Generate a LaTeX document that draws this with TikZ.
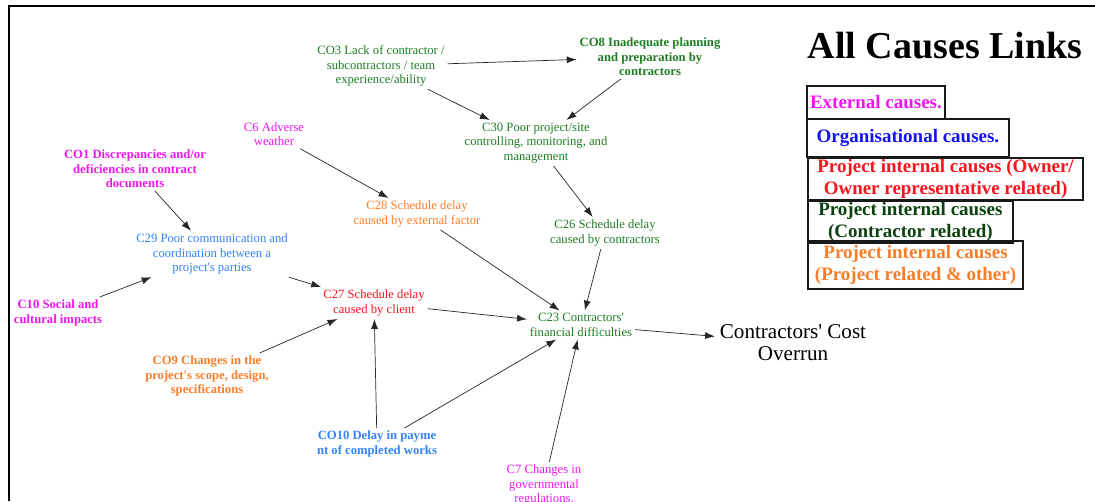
\documentclass[tikz,border=0pt]{standalone}
\usepackage{fontspec}
\setmainfont{Liberation Serif}
\usetikzlibrary{arrows.meta,positioning}

\definecolor{extcol}{RGB}{240,20,240}
\definecolor{orgcol}{RGB}{50,130,250}
\definecolor{orglegcol}{RGB}{20,20,240}
\definecolor{owncol}{RGB}{250,20,30}
\definecolor{concol}{RGB}{30,125,35}
\definecolor{conlegcol}{RGB}{10,65,15}
\definecolor{othcol}{RGB}{250,125,40}

\newcommand{\apos}{\textquotesingle}

\tikzset{
  cause/.style={align=center, font=\fontsize{9}{10.2}\selectfont, inner sep=2pt},
  causeb/.style={cause, font=\fontsize{9}{10.2}\selectfont\bfseries},
  link/.style={-{Latex[length=7pt,width=5pt]}, black!85, line width=0.5pt},
  legbox/.style={draw=black!90, line width=1.3pt, align=center, anchor=north west,
    inner sep=1pt, font=\fontsize{13.5}{15.6}\selectfont\bfseries},
}

\begin{document}
\begin{tikzpicture}[x=0.025cm, y=-0.025cm]
\useasboundingbox (0,0) rectangle (1095,501);
\clip (0,0) rectangle (1095,501);
\draw[line width=1.4pt] (9,501) -- (9,6) -- (1095,6);

% title and legend
\node[font=\fontsize{27}{30}\selectfont\bfseries] (title) at (945,46) {All Causes Links};
\node[legbox, text=extcol, minimum width=3.45cm, minimum height=0.83cm] (legext) at (806,85) {External causes.};
\node[legbox, text=orglegcol, minimum width=5.05cm, minimum height=0.95cm] (legorg) at (806,118) {Organisational causes.};
\node[legbox, text=owncol, minimum width=6.88cm, minimum height=1.05cm] (legown) at (807,157) {Project internal causes (Owner/\\Owner representative related)};
\node[legbox, text=conlegcol, minimum width=5.12cm, minimum height=1cm] (legcon) at (807,200) {Project internal causes\\(Contractor related)};
\node[legbox, text=othcol, minimum width=5.38cm, minimum height=1.2cm] (legoth) at (807,240) {Project internal causes\\(Project related \& other)};

% causes
\node[cause, concol] (co3) at (381,66) {CO3 Lack of contractor /\\subcontractors / team\\experience/ability};
\node[causeb, concol] (co8) at (650,57) {CO8 Inadequate planning\\and preparation by\\contractors};
\node[cause, concol] (c30) at (536,143) {C30 Poor project/site\\controlling, monitoring, and\\management};
\node[cause, extcol] (c6) at (274,134) {C6 Adverse\\weather};
\node[causeb, extcol] (co1) at (135,169) {CO1 Discrepancies and/or\\deficiencies in contract\\documents};
\node[cause, othcol] (c28) at (417,214) {C28 Schedule delay\\caused by external factor};
\node[cause, concol] (c26) at (605,233) {C26 Schedule delay\\caused by contractors};
\node[cause, orgcol] (c29) at (212,254) {C29 Poor communication and\\coordination between a\\project\apos s parties};
\node[causeb, extcol] (c10) at (58,313) {C10 Social and\\cultural impacts};
\node[cause, owncol] (c27) at (374,303) {C27 Schedule delay\\caused by client};
\node[cause, concol] (c23) at (581,325) {C23 Contractors\apos\\financial difficulties};
\node[font=\fontsize{15}{15.6}\selectfont, align=center] (overrun) at (793,343) {Contractors\apos\ Cost\\Overrun};
\node[causeb, othcol] (co9) at (207,376) {CO9 Changes in the\\project\apos s scope, design,\\specifications};
\node[causeb, orgcol] (co10) at (377,444) {CO10 Delay in payme\\nt of completed works};
\node[cause, extcol] (c7) at (544,485) {C7 Changes in\\governmental\\regulations.};

% links
\draw[link] (co3) -- (co8);
\draw[link] (co3) -- (c30);
\draw[link] (co8) -- (c30);
\draw[link] (c30) -- (c26);
\draw[link] (c6) -- (c28);
\draw[link] (co1) -- (c29);
\draw[link] (c10) -- (c29);
\draw[link] (c29) -- (c27);
\draw[link] (co9) -- (c27);
\draw[link] (co10) -- (c27);
\draw[link] (co10) -- (c23);
\draw[link] (c27) -- (c23);
\draw[link] (c28) -- (c23);
\draw[link] (c26) -- (c23);
\draw[link] (c7) -- (c23);
\draw[link] (c23) -- (overrun);
\end{tikzpicture}
\end{document}
